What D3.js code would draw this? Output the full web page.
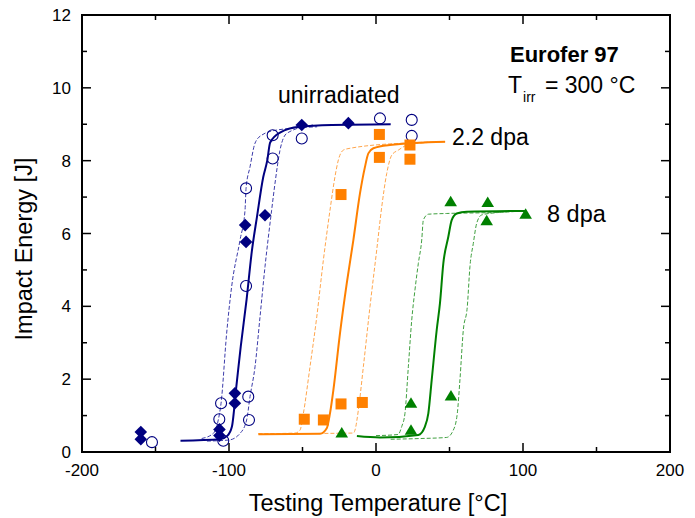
<!DOCTYPE html>
<html>
<head>
<meta charset="utf-8">
<script src="https://cdn.jsdelivr.net/npm/d3@7"></script>
<style>
  html, body { margin: 0; padding: 0; background: #fff; }
  svg { display: block; font-family: "Liberation Sans", Arial, sans-serif; }
</style>
</head>
<body>
<svg id="chart" width="695" height="518"></svg>
<script>
// ---------------- DATA ----------------
const xTicks = [-200, -100, 0, 100, 200];
const xMinorTicks = [-150, -50, 50, 150];
const yTicks = [0, 2, 4, 6, 8, 10, 12];
const yMinorTicks = [1, 3, 5, 7, 9, 11];

// measured points [T (°C), E (J)]
const unirrFilled = [[-160, 0.55], [-160, 0.35], [-89, 6.23], [-88.4, 5.77], [-75.5, 6.5],
  [-96, 1.61], [-96, 1.34], [-106.5, 0.62], [-106.5, 0.45], [-50.5, 8.98], [-18.8, 9.03]];
const unirrOpen = [[-152.4, 0.27], [-70.3, 8.7], [-70.3, 8.06], [-88.4, 7.24], [-88.4, 4.56],
  [-105.4, 1.34], [-106.6, 0.9], [-103.9, 0.31], [-86.9, 1.52], [-86.4, 0.88],
  [-50.5, 8.61], [2.7, 9.16], [24.3, 9.12], [24.3, 8.68]];
const dpa22Squares = [[2.3, 8.72], [2.3, 8.09], [23.1, 8.43], [23.1, 8.04], [-23.8, 7.07],
  [-23.8, 1.32], [-9.3, 1.36], [-48.8, 0.9], [-35.8, 0.88]];
const dpa8Triangles = [[50.8, 6.87], [76, 6.85], [75.3, 6.35], [101.8, 6.53], [23.8, 1.34],
  [23.8, 0.6], [51, 1.54], [-23.3, 0.52]];

// fitted transition curves
const unirrFit = [[-133, 0.31], [-106, 0.35], [-101, 0.45], [-98, 0.7], [-95, 1.8], [-92, 2.9],
  [-88, 4.2], [-84.5, 5.5], [-81, 6.45], [-76.7, 7.55], [-74, 8.0], [-72, 8.5], [-65, 8.78],
  [-52, 8.93], [-30, 8.98], [10, 9.0]];
const unirrLow = [[-118.6, 0.37], [-110.7, 0.51], [-107.3, 0.88], [-105.4, 1.34], [-101.6, 3.26],
  [-98.2, 4.54], [-92.5, 5.82], [-89.1, 6.64], [-88.4, 7.24], [-85.7, 7.83], [-82.3, 8.48],
  [-77.8, 8.7], [-67.6, 8.84], [-40, 8.93]];
const unirrHigh = [[-115, 0.3], [-100, 0.33], [-92.5, 0.51], [-88, 0.88], [-85.7, 1.52],
  [-82.3, 2.34], [-78.9, 3.71], [-75.5, 5.09], [-71, 6.64], [-68.7, 7.38], [-65.3, 8.29],
  [-60.7, 8.75], [-42.8, 8.98]];

const dpa22Fit = [[-80, 0.49], [-38, 0.5], [-33.5, 0.65], [-31.3, 1.06], [-29, 1.7], [-24.5, 3.26],
  [-19.9, 4.63], [-15.4, 5.82], [-10.9, 7.1], [-7.5, 7.83], [-5.2, 8.2], [-1.8, 8.34],
  [9.5, 8.43], [47, 8.52]];
const dpa22Low = [[-80, 0.5], [-55, 0.52], [-51.7, 0.6], [-49.4, 1.06], [-44.9, 2.34], [-40.3, 3.71],
  [-35.8, 5.27], [-31.3, 6.64], [-27.9, 7.56], [-25.6, 8.02], [-22.2, 8.29], [-17.7, 8.34],
  [23.1, 8.49], [47, 8.52]];
const dpa22High = [[-80, 0.5], [-15.4, 0.52], [-14.3, 0.6], [-12, 1.15], [-8.6, 2.34], [-4.1, 3.99],
  [0.5, 5.55], [3.9, 6.73], [7.3, 7.65], [10.7, 8.15], [15.2, 8.29], [23, 8.45], [47, 8.52]];

const dpa8Fit = [[-13, 0.44], [2.7, 0.4], [28.8, 0.47], [33.3, 0.7], [35.6, 1.06], [37.9, 1.98],
  [41.3, 3.35], [43.5, 4.08], [45.8, 5.18], [49.2, 5.91], [51.5, 6.37], [54.9, 6.55],
  [61.7, 6.6], [101.8, 6.62]];
const dpa8Low = [[0, 0.45], [15, 0.48], [17.5, 0.7], [19.7, 1.06], [22, 2.34], [24.3, 3.62],
  [26.5, 4.45], [28.8, 5.18], [31.1, 5.82], [32.2, 6.37], [35.6, 6.53], [48.1, 6.55],
  [84, 6.58], [100, 6.62]];
const dpa8High = [[10, 0.35], [30, 0.37], [48.1, 0.4], [52.6, 0.6], [55.3, 1.06], [57.1, 1.98],
  [59.4, 3.35], [62.1, 3.99], [63.9, 5.09], [66.2, 5.73], [68.5, 6.28], [71.9, 6.51],
  [84, 6.58], [100, 6.62]];

const seriesLabels = ["unirradiated", "2.2 dpa", "8 dpa"];

// ---------------- CHART ----------------
const svg = d3.select("#chart");
const m = { left: 82, right: 25, top: 15, bottom: 66 };
const W = 695, H = 518;
const x = d3.scaleLinear().domain([-200, 200]).range([m.left, W - m.right]);
const y = d3.scaleLinear().domain([0, 12]).range([H - m.bottom, m.top]);

const navy = "#000080", navyDash = "#3c3caa";
const orange = "#ff8000", orangeDash = "#ffa64d";
const green = "#008000", greenDash = "#40a040";

const line = d3.line().x(d => x(d[0])).y(d => y(d[1])).curve(d3.curveMonotoneX);

function drawLine(data, color, dashed, width) {
  svg.append("path").datum(data).attr("d", line)
    .attr("fill", "none").attr("stroke", color)
    .attr("stroke-width", width)
    .attr("stroke-dasharray", dashed ? "4,2" : null);
}

drawLine(unirrLow, navyDash, true, 1);
drawLine(unirrHigh, navyDash, true, 1);
drawLine(dpa22Low, orangeDash, true, 1);
drawLine(dpa22High, orangeDash, true, 1);
drawLine(dpa8Low, greenDash, true, 1);
drawLine(dpa8High, greenDash, true, 1);
drawLine(unirrFit, navy, false, 2);
drawLine(dpa22Fit, orange, false, 2);
drawLine(dpa8Fit, green, false, 2);

// markers
const gm = svg.append("g");
gm.selectAll(".dia").data(unirrFilled).join("path")
  .attr("d", d => { const cx = x(d[0]), cy = y(d[1]), r = 6.3;
    return `M${cx},${cy - r}L${cx + r},${cy}L${cx},${cy + r}L${cx - r},${cy}Z`; })
  .attr("fill", navy);
gm.selectAll(".circ").data(unirrOpen).join("circle")
  .attr("cx", d => x(d[0])).attr("cy", d => y(d[1])).attr("r", 5.5)
  .attr("fill", "none").attr("stroke", navy).attr("stroke-width", 1.1);
gm.selectAll(".sq").data(dpa22Squares).join("rect")
  .attr("x", d => x(d[0]) - 5.5).attr("y", d => y(d[1]) - 5.5)
  .attr("width", 11).attr("height", 11).attr("fill", orange);
gm.selectAll(".tri").data(dpa8Triangles).join("path")
  .attr("d", d => { const cx = x(d[0]), cy = y(d[1]);
    return `M${cx},${cy - 6}L${cx + 6.3},${cy + 4.5}L${cx - 6.3},${cy + 4.5}Z`; })
  .attr("fill", green);

// axes frame with inward ticks
const axG = svg.append("g");
const x0 = x.range()[0], x1 = x.range()[1], y0 = y.range()[0], y1 = y.range()[1];
const tickW = 1.5;
function tick(x1_, y1_, x2_, y2_) {
  axG.append("line").attr("x1", x1_).attr("y1", y1_).attr("x2", x2_).attr("y2", y2_)
    .attr("stroke", "#000").attr("stroke-width", tickW);
}
xTicks.forEach(t => { tick(x(t), y0, x(t), y0 - 9); tick(x(t), y1, x(t), y1 + 9); });
xMinorTicks.forEach(t => { tick(x(t), y0, x(t), y0 - 5); tick(x(t), y1, x(t), y1 + 5); });
yTicks.forEach(t => { tick(x0, y(t), x0 + 9, y(t)); tick(x1, y(t), x1 - 9, y(t)); });
yMinorTicks.forEach(t => { tick(x0, y(t), x0 + 5, y(t)); tick(x1, y(t), x1 - 5, y(t)); });
axG.append("rect").attr("x", x0).attr("y", y1).attr("width", x1 - x0).attr("height", y0 - y1)
  .attr("fill", "none").attr("stroke", "#000").attr("stroke-width", 2);

// tick labels
svg.append("g").selectAll("text").data(xTicks).join("text")
  .attr("x", d => x(d)).attr("y", y0 + 24).attr("text-anchor", "middle")
  .attr("font-size", 17).text(d => d);
svg.append("g").selectAll("text").data(yTicks).join("text")
  .attr("x", x0 - 11).attr("y", d => y(d) + 6).attr("text-anchor", "end")
  .attr("font-size", 17).text(d => d);

// axis titles
svg.append("text").attr("x", 378).attr("y", 511).attr("text-anchor", "middle")
  .attr("font-size", 23.5).text("Testing Temperature [°C]");
svg.append("text").attr("transform", "translate(32,249) rotate(-90)")
  .attr("text-anchor", "middle").attr("font-size", 23.5).text("Impact Energy [J]");

// annotations
svg.append("text").attr("x", 278).attr("y", 103).attr("font-size", 23).text(seriesLabels[0]);
svg.append("text").attr("x", 452).attr("y", 145).attr("font-size", 23).text(seriesLabels[1]);
svg.append("text").attr("x", 547).attr("y", 221.5).attr("font-size", 23.5).text(seriesLabels[2]);

svg.append("text").attr("x", 510).attr("y", 62).attr("font-size", 22).attr("font-weight", "bold")
  .text("Eurofer 97");
const tirr = svg.append("text").attr("x", 508).attr("y", 93).attr("font-size", 23);
tirr.append("tspan").text("T");
tirr.append("tspan").attr("font-size", 14).attr("dy", 9).attr("dx", 1).text("irr");
tirr.append("tspan").attr("dy", -9).attr("dx", 3).text(" = 300 °C");
</script>
</body>
</html>
